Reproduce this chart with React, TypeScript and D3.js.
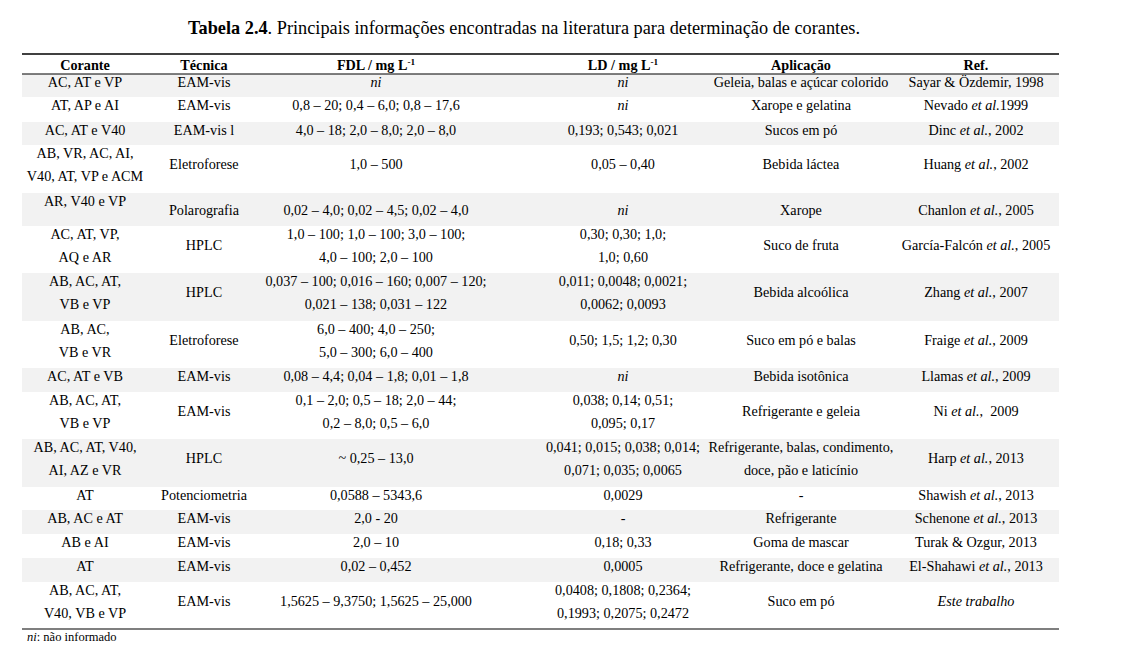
import React from "react";
import * as d3 from "d3";

// ---------- data ----------
const headers = ["Corante", "Técnica", "FDL / mg L^-1", "LD / mg L^-1", "Aplicação", "Ref."];

const corantes = [
  "AC, AT e VP",
  "AT, AP e AI",
  "AC, AT e V40",
  "AB, VR, AC, AI,\nV40, AT, VP e ACM",
  "AR, V40 e VP",
  "AC, AT, VP,\nAQ e AR",
  "AB, AC, AT,\nVB e VP",
  "AB, AC,\nVB e VR",
  "AC, AT e VB",
  "AB, AC, AT,\nVB e VP",
  "AB, AC, AT, V40,\nAI, AZ e VR",
  "AT",
  "AB, AC e AT",
  "AB e AI",
  "AT",
  "AB, AC, AT,\nV40, VB e VP",
];

const tecnicas = [
  "EAM-vis", "EAM-vis", "EAM-vis l", "Eletroforese", "Polarografia", "HPLC", "HPLC",
  "Eletroforese", "EAM-vis", "EAM-vis", "HPLC", "Potenciometria", "EAM-vis", "EAM-vis",
  "EAM-vis", "EAM-vis",
];

const fdl = [
  "_ni_",
  "0,8 – 20; 0,4 – 6,0; 0,8 – 17,6",
  "4,0 – 18; 2,0 – 8,0; 2,0 – 8,0",
  "1,0 – 500",
  "0,02 – 4,0; 0,02 – 4,5; 0,02 – 4,0",
  "1,0 – 100; 1,0 – 100; 3,0 – 100;\n4,0 – 100; 2,0 – 100",
  "0,037 – 100; 0,016 – 160; 0,007 – 120;\n0,021 – 138; 0,031 – 122",
  "6,0 – 400; 4,0 – 250;\n5,0 – 300; 6,0 – 400",
  "0,08 – 4,4; 0,04 – 1,8; 0,01 – 1,8",
  "0,1 – 2,0; 0,5 – 18; 2,0 – 44;\n0,2 – 8,0; 0,5 – 6,0",
  "~ 0,25 – 13,0",
  "0,0588 – 5343,6",
  "2,0 - 20",
  "2,0 – 10",
  "0,02 – 0,452",
  "1,5625 – 9,3750; 1,5625 – 25,000",
];

const ld = [
  "_ni_",
  "_ni_",
  "0,193; 0,543; 0,021",
  "0,05 – 0,40",
  "_ni_",
  "0,30; 0,30; 1,0;\n1,0; 0,60",
  "0,011; 0,0048; 0,0021;\n0,0062; 0,0093",
  "0,50; 1,5; 1,2; 0,30",
  "_ni_",
  "0,038; 0,14; 0,51;\n0,095; 0,17",
  "0,041; 0,015; 0,038; 0,014;\n0,071; 0,035; 0,0065",
  "0,0029",
  "-",
  "0,18; 0,33",
  "0,0005",
  "0,0408; 0,1808; 0,2364;\n0,1993; 0,2075; 0,2472",
];

const aplicacoes = [
  "Geleia, balas e açúcar colorido",
  "Xarope e gelatina",
  "Sucos em pó",
  "Bebida láctea",
  "Xarope",
  "Suco de fruta",
  "Bebida alcoólica",
  "Suco em pó e balas",
  "Bebida isotônica",
  "Refrigerante e geleia",
  "Refrigerante, balas, condimento,\ndoce, pão e laticínio",
  "-",
  "Refrigerante",
  "Goma de mascar",
  "Refrigerante, doce e gelatina",
  "Suco em pó",
];

const refs = [
  "Sayar & Özdemir, 1998",
  "Nevado _et al._1999",
  "Dinc _et al._, 2002",
  "Huang _et al._, 2002",
  "Chanlon _et al._, 2005",
  "García-Falcón _et al._, 2005",
  "Zhang _et al._, 2007",
  "Fraige _et al._, 2009",
  "Llamas _et al._, 2009",
  "Ni _et al._,  2009",
  "Harp _et al._, 2013",
  "Shawish _et al._, 2013",
  "Schenone _et al._, 2013",
  "Turak & Ozgur, 2013",
  "El-Shahawi _et al._, 2013",
  "_Este trabalho_",
];

const titleBold = "Tabela 2.4";
const titleRest = ". Principais informações encontradas na literatura para determinação de corantes.";
const footnoteItalic = "ni";
const footnoteRest = ": não informado";

// ---------- layout ----------
const W = 1131;
const H = 651;
const tableLeft = 22;
const tableRight = 1059;
const topRule = 54;
const headerBottom = 74;
const colCenters = [85, 204, 376, 623, 801, 976];
const rowHeights = [23, 25, 23, 48, 33, 47, 48, 47, 24, 47, 48, 23, 24, 24, 24, 47];
const middleRows = [4]; // rows whose non-first cells are centred in the full row
const lineH = 23.3;
const FONT = "'Liberation Serif', 'Times New Roman', serif";
const FS = 14.2;

function segments(s: string) {
  const parts = s.split("_");
  return parts.map((t, i) => ({ t, it: i % 2 === 1 })).filter((p) => p.t.length > 0);
}

export default function App() {
  const columns = [corantes, tecnicas, fdl, ld, aplicacoes, refs];
  const x = d3.scaleOrdinal<number, number>().domain(d3.range(6)).range(colCenters);
  const tops = [headerBottom, ...Array.from(d3.cumsum(rowHeights), (v) => headerBottom + v)];
  const bottom = tops[tops.length - 1];

  return (
    <svg width={W} height={H} style={{ display: "block", position: "absolute", left: 0, top: 0, background: "#fff" }}>
      <rect x={0} y={0} width={W} height={H} fill="#fff" />
      {/* title */}
      <text x={524} y={34} textAnchor="middle" fontFamily={FONT} fontSize={18.3} fill="#000">
        <tspan fontWeight="bold">{titleBold}</tspan>
        <tspan>{titleRest}</tspan>
      </text>
      {/* row shading */}
      {rowHeights.map((h, i) =>
        i % 2 === 0 ? (
          <rect key={"bg" + i} x={tableLeft} y={tops[i]} width={tableRight - tableLeft} height={h} fill="#f2f2f2" />
        ) : null
      )}
      {/* rules */}
      <line x1={tableLeft} x2={tableRight} y1={topRule} y2={topRule} stroke="#000" strokeWidth={1.6} />
      <line x1={tableLeft} x2={tableRight} y1={headerBottom} y2={headerBottom} stroke="#000" strokeWidth={1.2} />
      <line x1={tableLeft} x2={tableRight} y1={bottom} y2={bottom} stroke="#000" strokeWidth={1.2} />
      {/* header */}
      {headers.map((h, c) => {
        const [base, sup] = h.split("^");
        return (
          <text key={"h" + c} x={x(c)} y={70} textAnchor="middle" fontFamily={FONT} fontSize={FS} fontWeight="bold" fill="#000">
            <tspan>{base}</tspan>
            {sup ? (
              <tspan fontSize={FS * 0.65} dy={-5}>
                {sup}
              </tspan>
            ) : null}
          </text>
        );
      })}
      {/* cells */}
      {rowHeights.map((h, r) => {
        const maxLines = d3.max(columns, (col) => col[r].split("\n").length) as number;
        return columns.map((col, c) => {
          const lines = col[r].split("\n");
          let y0: number;
          if (middleRows.includes(r) && c > 0) {
            y0 = tops[r] + h / 2 + 5;
          } else {
            y0 = tops[r] + 12.5 + ((maxLines - lines.length) * lineH) / 2;
          }
          return lines.map((ln, k) => (
            <text
              key={`c${r}-${c}-${k}`}
              x={x(c)}
              y={y0 + k * lineH}
              textAnchor="middle"
              fontFamily={FONT}
              fontSize={FS}
              fill="#000"
              style={{ whiteSpace: "pre" }}
            >
              {segments(ln).map((s, j) => (
                <tspan key={j} fontStyle={s.it ? "italic" : "normal"}>
                  {s.t}
                </tspan>
              ))}
            </text>
          ));
        });
      })}
      {/* footnote */}
      <text x={27} y={641} fontFamily={FONT} fontSize={12.5} fill="#000">
        <tspan fontStyle="italic">{footnoteItalic}</tspan>
        <tspan>{footnoteRest}</tspan>
      </text>
    </svg>
  );
}
